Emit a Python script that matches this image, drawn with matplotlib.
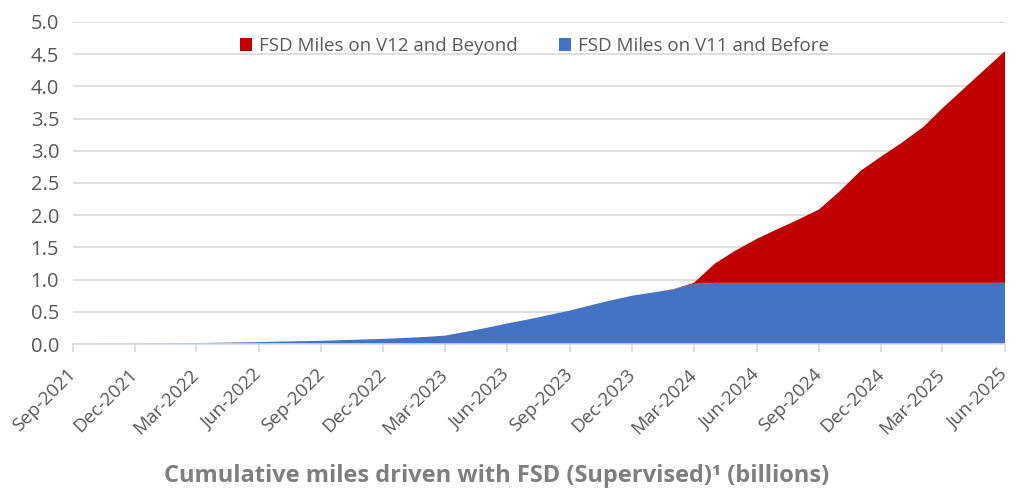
import numpy as np
import pandas as pd
import matplotlib
matplotlib.use("Agg")
import matplotlib.pyplot as plt
import matplotlib.dates as mdates

plt.rcParams["font.family"] = ["Open Sans", "DejaVu Sans"]

# Monthly cumulative miles (billions), Sep-2021 .. Jun-2025
months = pd.date_range("2021-09-01", "2025-06-01", freq="MS")

v11_before = [0.0, 0.001, 0.002, 0.004, 0.007, 0.011, 0.015, 0.02, 0.025, 0.03,
              0.037, 0.044, 0.05, 0.06, 0.07, 0.08, 0.095, 0.11, 0.13, 0.19,
              0.25, 0.32, 0.38, 0.45, 0.52, 0.60, 0.68, 0.75, 0.80, 0.85,
              0.935, 0.95, 0.95, 0.95, 0.95, 0.95, 0.95, 0.95, 0.95, 0.95,
              0.95, 0.95, 0.95, 0.95, 0.95, 0.95]
total = [0.0, 0.001, 0.002, 0.004, 0.007, 0.011, 0.015, 0.02, 0.025, 0.03,
         0.037, 0.044, 0.05, 0.06, 0.07, 0.08, 0.095, 0.11, 0.13, 0.19,
         0.25, 0.32, 0.38, 0.45, 0.52, 0.60, 0.68, 0.75, 0.80, 0.855,
         0.95, 1.25, 1.45, 1.63, 1.78, 1.93, 2.09, 2.37, 2.69, 2.91,
         3.13, 3.37, 3.66, 3.96, 4.25, 4.55]
v12_beyond = list(np.array(total) - np.array(v11_before))

series_names = ["FSD Miles on V11 and Before", "FSD Miles on V12 and Beyond"]
colors = ["#4472C4", "#C00000"]
gray = "#595959"

fig = plt.figure(figsize=(10.22, 4.97), dpi=100)
ax = fig.add_axes([0.0714, 0.3078, 0.912, 0.648])

polys = ax.stackplot(months, v11_before, v12_beyond, colors=colors,
                     labels=series_names, linewidth=0)

ax.set_xlim(months[0], months[-1])
ax.set_ylim(0, 5.0)
ax.set_yticks(np.arange(0, 5.01, 0.5))
ax.set_yticklabels(["%.1f" % v for v in np.arange(0, 5.01, 0.5)])
ax.yaxis.grid(True, color="#d9d9d9", linewidth=1.2)
ax.set_axisbelow(True)

ax.set_xticks(months[::3])
ax.xaxis.set_major_formatter(mdates.DateFormatter("%b-%Y"))
plt.setp(ax.get_xticklabels(), rotation=45, ha="right", va="center",
         rotation_mode="anchor")

for s in ["top", "right", "left"]:
    ax.spines[s].set_visible(False)
ax.spines["bottom"].set_color("#d9d9d9")
ax.spines["bottom"].set_linewidth(1.2)
ax.tick_params(axis="y", length=0, labelsize=14.5, colors=gray, pad=10)
ax.tick_params(axis="x", length=6, color="#d9d9d9", width=1.2,
               labelsize=13.5, labelcolor=gray, pad=14)

handles = [polys[1], polys[0]]
labels = [series_names[1], series_names[0]]
ax.legend(handles, labels, loc="upper center", bbox_to_anchor=(0.495, 1.005),
          ncol=2, frameon=False, fontsize=13.5, labelcolor=gray,
          handlelength=0.65, handleheight=0.65, handletextpad=0.35,
          columnspacing=2.2)

fig.text(0.486, 0.042, "Cumulative miles driven with FSD (Supervised)\u00b9 (billions)",
         ha="center", va="center", fontsize=17, fontweight="bold", color="#7f7f7f")

fig.savefig("out.png", dpi=100)
